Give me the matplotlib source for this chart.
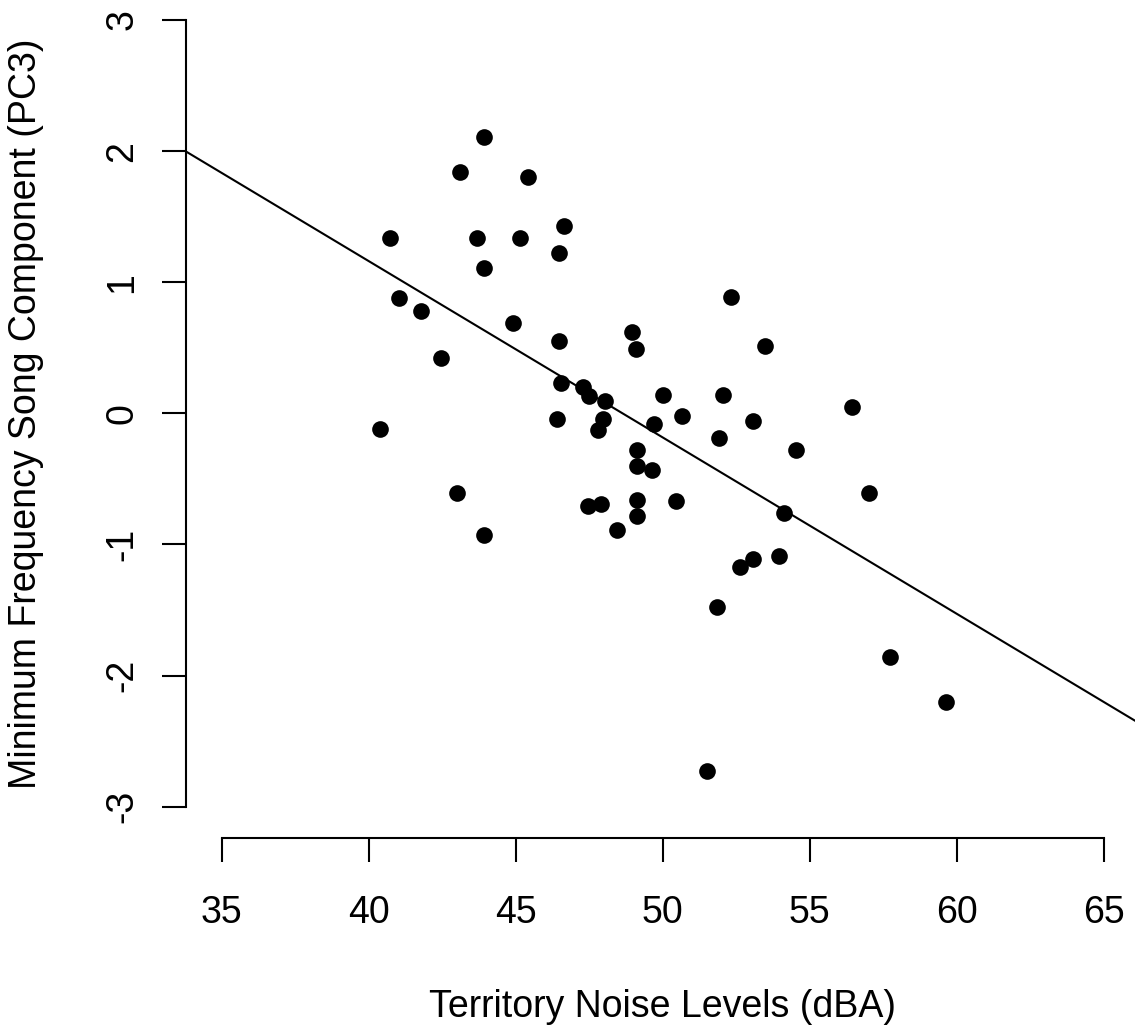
import numpy as np
import matplotlib
matplotlib.use('Agg')
import matplotlib.pyplot as plt

plt.rcParams['font.family'] = ['Liberation Sans', 'DejaVu Sans']

# territory noise (dBA) vs PC3 score
noise = [40.39, 40.72, 41.04, 41.78, 42.46, 43.01, 43.11, 43.68, 43.93, 43.93,
         43.93, 44.92, 45.16, 45.43, 46.48, 46.65, 46.48, 46.54, 46.41, 47.30,
         47.50, 48.05, 47.98, 47.81, 47.47, 47.89, 48.46, 48.96, 49.10, 49.11,
         49.11, 49.11, 49.11, 49.62, 49.69, 50.02, 50.44, 50.67, 51.91, 52.06,
         52.33, 53.07, 53.48, 54.14, 54.55, 52.63, 53.06, 53.97, 51.84, 51.52,
         56.44, 57.02, 57.74, 59.64]
pc3 = [-0.12, 1.34, 0.88, 0.78, 0.42, -0.61, 1.84, 1.34, 2.11, 1.11,
       -0.93, 0.69, 1.34, 1.80, 1.22, 1.43, 0.55, 0.23, -0.04, 0.20,
       0.13, 0.09, -0.04, -0.13, -0.71, -0.69, -0.89, 0.62, 0.49, -0.28,
       -0.40, -0.66, -0.78, -0.43, -0.08, 0.14, -0.67, -0.02, -0.19, 0.14,
       0.89, -0.06, 0.51, -0.76, -0.28, -1.17, -1.11, -1.09, -1.48, -2.73,
       0.05, -0.61, -1.86, -2.20]

# fitted line as drawn (abline)
fit_intercept = 6.541
fit_slope = -0.1345

xticks = [35, 40, 45, 50, 55, 60, 65]
yticks = [-3, -2, -1, 0, 1, 2, 3]

W, H = 1135, 1030
fig = plt.figure(figsize=(W / 100, H / 100), dpi=100)
# R-style plot region: xlim/ylim padded 4%, region runs past the top/right edge
ax = fig.add_axes([186.4 / W, (H - 838.1) / H, (1139 - 186.4) / W, (838.1 + 11.5) / H])
ax.set_xlim(33.8, 66.2)
ax.set_ylim(-3.24, 3.24)

ax.plot(noise, pc3, 'o', color='black', ms=12, mec='none', clip_on=False)
ax.axline((0, fit_intercept), slope=fit_slope, color='black', lw=1.5)

for s in ['top', 'right']:
    ax.spines[s].set_visible(False)
ax.spines['bottom'].set_bounds(35, 65)
ax.spines['left'].set_bounds(-3, 3)
for s in ['bottom', 'left']:
    ax.spines[s].set_linewidth(1.5)

ax.set_xticks(xticks)
ax.set_yticks(yticks)
ax.set_yticklabels([str(v) for v in yticks], rotation=90, va='center')
ax.tick_params(axis='both', length=17.3, width=1.5, labelsize=27, direction='out')
ax.tick_params(axis='x', pad=24)
ax.tick_params(axis='y', pad=16)

fig.text(662.7 / W, (H - 1017) / H, 'Territory Noise Levels (dBA)', ha='center', va='baseline', fontsize=27)
fig.text(26 / W, (H - 413.3) / H, 'Minimum Frequency Song Component (PC3)', ha='center', va='center',
         rotation=90, fontsize=27)

fig.savefig('out.png', dpi=100)
